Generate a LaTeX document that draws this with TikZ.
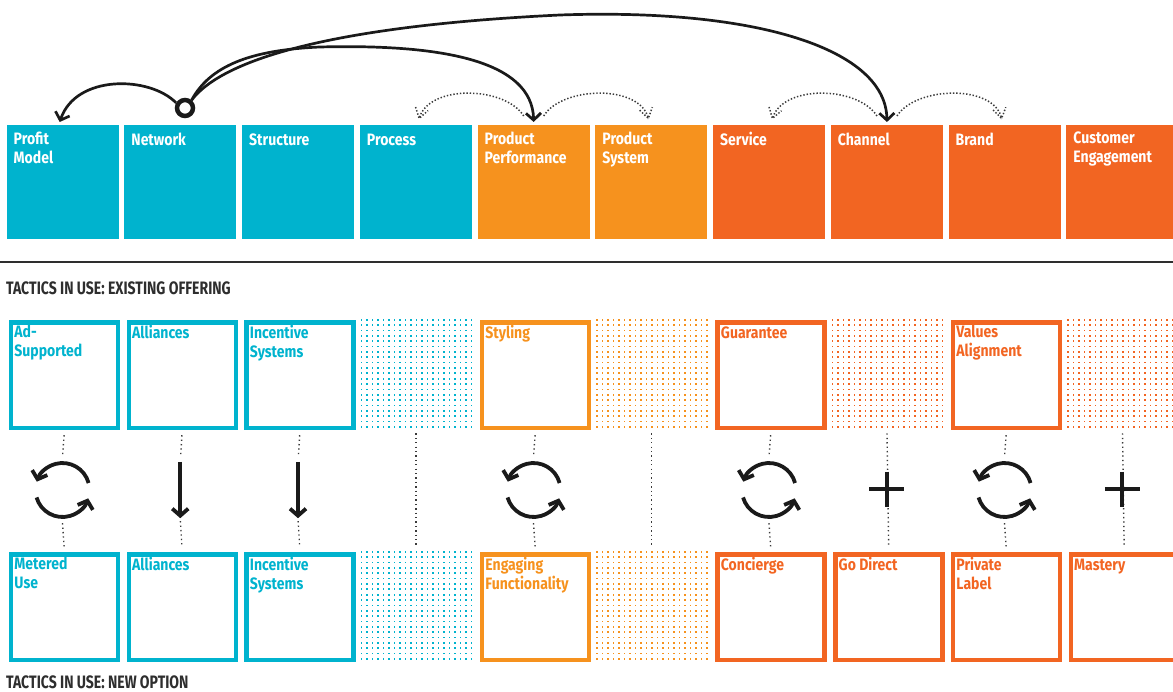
\documentclass[tikz,border=0pt]{standalone}
\usepackage{fontspec}
\newfontfamily\condf[FakeStretch=0.85]{Fira Sans}
\newfontfamily\headf[FakeStretch=0.78]{Fira Sans}
\usetikzlibrary{arrows.meta,calc,decorations.markings}
\definecolor{cyanB}{HTML}{00B3CE}
\definecolor{orangeB}{HTML}{F6921E}
\definecolor{redB}{HTML}{F26522}
\definecolor{inkB}{HTML}{1A1A1A}
\definecolor{headB}{HTML}{2E2E2E}
\definecolor{dotB}{HTML}{3A3A3A}
\newcommand\dotpanel[3]{%
  \foreach \a in {0,...,20}{\foreach \b in {0,...,20}{%
    \fill[#3] ({#1+1+\a*5.5},{#2+1+\b*5.35}) rectangle ++(1.7,1.7);}}}
\tikzset{
  topbox/.style={rectangle, inner sep=0, minimum width=112, minimum height=114,
    anchor=north west, fill=#1, draw=none},
  tacbox/.style={rectangle, inner sep=0, minimum width=107, minimum height=105.5,
    anchor=north west, draw=#1, line width=4.5},
  dotcell/.style={rectangle, inner sep=0, minimum width=112, minimum height=110,
    anchor=north west},
  lab/.style={anchor=north west, inner sep=0, align=left,
    font=\condf\bfseries\fontsize{16.5}{19}\selectfont, execute at begin node=\strut},
  toplabel/.style={lab, text=white},
  taclabel/.style={lab, text=#1},
  heading/.style={anchor=base west, inner sep=0, text=headB,
    font=\headf\bfseries\fontsize{18}{20}\selectfont},
  bigcurve/.style={draw=inkB, line width=2.7, -{Straight Barb[length=7pt,width=15pt]}},
  dotarc/.style={draw=dotB, line width=1.5, dash pattern=on 1.4pt off 1.9pt,
    postaction={decorate}, decoration={markings,
      mark=at position 0.995 with {\draw[dotB, line width=1.5, dash pattern=on 1.4pt off 1.9pt]
        (-10,6.5) -- (0,0) -- (-10,-6.5);}}},
  vdots/.style={draw=dotB, line width=1.4, dash pattern=on 1.3pt off 3.1pt},
  icon/.style={draw=inkB, line width=3.8},
  iconarrow/.style={icon, -{Straight Barb[length=7pt,width=16pt]}},
}
\begin{document}
\begin{tikzpicture}[x=1pt,y=-1pt]
\useasboundingbox (0,0) rectangle (1173,692);
\clip (0,0) rectangle (1173,692);

% top row
\foreach \i/\c/\t in {0/cyanB/{Profit\\Model},1/cyanB/Network,2/cyanB/Structure,
  3/cyanB/Process,4/orangeB/{Product\\Performance},5/orangeB/{Product\\System},
  6/redB/Service,7/redB/Channel,8/redB/Brand,9/redB/{Customer\\Engagement}}{
  \node[topbox=\c] (t\i) at ({6.5+117.75*\i},125) {};
  \node[toplabel] (tl\i) at ($(t\i.north west)+(7,7)$) {\t};
}

% separator and headings
\coordinate (sepL) at (0,262);
\coordinate (sepR) at (1173,262);
\draw[headB, line width=1.4] (sepL) -- (sepR);
\node[heading] (h1) at (6,294.5) {TACTICS IN USE: EXISTING OFFERING};
\node[heading] (h2) at (6,688.5) {TACTICS IN USE: NEW OPTION};

% tactic row 1
\foreach \i/\c/\t in {0/cyanB/{Ad-\\Supported},1/cyanB/Alliances,2/cyanB/{Incentive\\Systems},
  4/orangeB/Styling,6/redB/Guarantee,8/redB/{Values\\Alignment}}{
  \node[tacbox=\c] (a\i) at ({6.5+117.75*\i+2.25},320.25) {};
  \node[taclabel=\c] (al\i) at ($(a\i.north west)+(5.5,4.5)$) {\t};
}
\foreach \i/\c in {3/cyanB,5/orangeB,7/redB,9/redB}{
  \node[dotcell] (a\i) at ({6.5+117.75*\i},318) {};
}
\dotpanel{359.75}{318}{cyanB}
\dotpanel{595.25}{318}{orangeB}
\dotpanel{830.75}{318}{redB}
\dotpanel{1066.25}{318}{redB}

% tactic row 2
\foreach \i/\c/\t in {0/cyanB/{Metered\\Use},1/cyanB/Alliances,2/cyanB/{Incentive\\Systems},
  4/orangeB/{Engaging\\Functionality},6/redB/Concierge,7/redB/{Go Direct},
  8/redB/{Private\\Label},9/redB/Mastery}{
  \node[tacbox=\c] (b\i) at ({6.5+117.75*\i+2.25},552.25) {};
  \node[taclabel=\c] (bl\i) at ($(b\i.north west)+(5.5,5)$) {\t};
}
\foreach \i in {3,5}{
  \node[dotcell] (b\i) at ({6.5+117.75*\i},550) {};
}
\dotpanel{359.75}{550}{cyanB}
\dotpanel{595.25}{550}{orangeB}

% middle icons
\foreach \i in {0,4,6,8}{
  \node[circle, inner sep=0, minimum size=66] (m\i) at ({62.5+117.75*\i},490) {};
  \draw[vdots, shorten <=5] (a\i.south) -- (m\i.north);
  \draw[vdots, shorten >=5] (m\i.south) -- (b\i.north);
  \draw[iconarrow] ($(m\i.center)+(-15:27)$) arc[start angle=-15, end angle=-162, radius=27];
  \draw[iconarrow] ($(m\i.center)+(-196:27)$) arc[start angle=-196, end angle=-342, radius=27];
}
\foreach \i in {1,2}{
  \node[rectangle, inner sep=0, minimum width=14, minimum height=56] (m\i) at ({62.5+117.75*\i},490) {};
  \draw[vdots, shorten <=5, shorten >=6] (a\i.south) -- (m\i.north);
  \draw[vdots, shorten <=3, shorten >=5] (m\i.south) -- (b\i.north);
  \draw[iconarrow] (m\i.north) -- (m\i.south);
}
\foreach \i in {3,5,7,9}{
  \draw[vdots, shorten <=5, shorten >=5] (a\i.south) -- (b\i.north);
}
\foreach \i in {7,9}{
  \coordinate (m\i) at ({62.5+117.75*\i},489);
  \draw[icon] ($(m\i)+(-17.5,0)$) -- ($(m\i)+(17.5,0)$);
  \draw[icon] ($(m\i)+(0,-17.5)$) -- ($(m\i)+(0,17.5)$);
}

% top connectors
\node[circle, draw=inkB, line width=4.5, minimum size=16, inner sep=0] (hub) at (185,108) {};
\draw[bigcurve] (hub.150) .. controls (150,76) and (76,74) .. ($(t0.north)+(-3,-3)$);
\draw[bigcurve] (hub.50) .. controls (210,66) and (250,50) .. (320,47)
  .. controls (440,44) and (532,60) .. ($(t4.north)+(0,-3)$);
\draw[bigcurve] (hub.50) .. controls (222,60) and (330,26) .. (560,15)
  .. controls (760,8) and (886,50) .. ($(t7.north)+(0,-3)$);

\draw[dotarc] ($(t4.north)+(-10,-9)$) .. controls (505,86) and (428,84) .. ($(t3.north)+(3,-6)$);
\draw[dotarc] ($(t4.north)+(10,-9)$) .. controls (562,86) and (641,84) .. ($(t5.north)+(-3,-6)$);
\draw[dotarc] ($(t7.north)+(-10,-9)$) .. controls (858,86) and (782,84) .. ($(t6.north)+(3,-6)$);
\draw[dotarc] ($(t7.north)+(10,-9)$) .. controls (916,86) and (995,84) .. ($(t8.north)+(-3,-6)$);
\end{tikzpicture}
\end{document}
